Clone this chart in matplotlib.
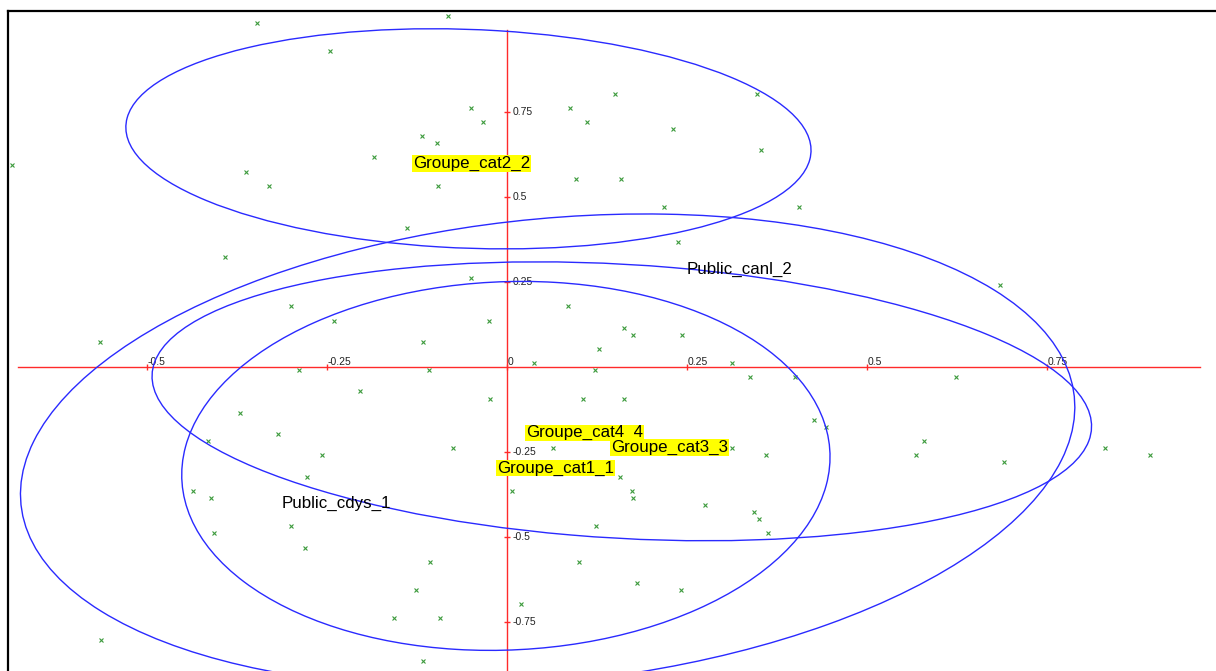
import matplotlib.pyplot as plt
from matplotlib.patches import Ellipse

plt.rcParams['font.family'] = ['Liberation Sans', 'DejaVu Sans']

# individus (plan factoriel 1-2)
ind_x = [-0.348, -0.246, -0.688, -0.185, -0.363, -0.331, -0.082, -0.050, -0.034, -0.119,
         -0.098, 0.150, 0.087, 0.111, 0.230, 0.347, 0.352, 0.095, 0.158, -0.096,
         0.218, 0.405, -0.139, 0.237, -0.392, -0.566, -0.300, -0.241, -0.289, -0.205,
         -0.371, -0.319, -0.416, -0.257, -0.278, -0.437, -0.412, -0.050, 0.084, -0.025,
         -0.117, 0.162, 0.175, 0.243, 0.127, 0.037, -0.109, 0.122, 0.312, 0.337,
         0.400, 0.426, -0.024, 0.105, 0.162, -0.075, 0.064, 0.312, 0.359, 0.157,
         0.007, 0.173, 0.175, 0.684, 0.623, 0.443, 0.579, 0.568, 0.690, 0.830,
         0.893, -0.407, -0.300, -0.281, -0.157, -0.564, 0.275, 0.343, 0.350, 0.362,
         0.123, -0.107, 0.100, 0.180, 0.241, -0.127, 0.019, -0.094, -0.117]
ind_y = [1.013, 0.930, 0.595, 0.619, 0.574, 0.533, 1.033, 0.763, 0.722, 0.680,
         0.660, 0.804, 0.763, 0.722, 0.701, 0.804, 0.639, 0.554, 0.554, 0.533,
         0.472, 0.472, 0.410, 0.369, 0.324, 0.074, 0.180, 0.136, -0.008, -0.070,
         -0.134, -0.196, -0.217, -0.258, -0.323, -0.364, -0.384, 0.263, 0.180, 0.136,
         0.074, 0.116, 0.095, 0.095, 0.054, 0.013, -0.008, -0.008, 0.013, -0.029,
         -0.029, -0.155, -0.093, -0.093, -0.093, -0.237, -0.237, -0.237, -0.258, -0.323,
         -0.364, -0.364, -0.384, 0.242, -0.029, -0.176, -0.217, -0.258, -0.279, -0.237,
         -0.258, -0.487, -0.467, -0.532, -0.737, -0.802, -0.405, -0.426, -0.446, -0.487,
         -0.467, -0.573, -0.573, -0.634, -0.655, -0.655, -0.696, -0.737, -0.864]

# modalites
mod_labels = ['Groupe_cat2_2', 'Public_canl_2', 'Groupe_cat4_4',
              'Groupe_cat3_3', 'Groupe_cat1_1', 'Public_cdys_1']
mod_x = [-0.050, 0.322, 0.107, 0.225, 0.067, -0.238]
mod_y = [0.599, 0.288, -0.193, -0.236, -0.296, -0.401]
mod_jaune = [True, False, True, True, True, False]

# ellipses de confiance
ell_cx = [-0.054, 0.159, -0.002, 0.056]
ell_cy = [0.672, -0.100, -0.290, -0.245]
ell_w = [0.956, 1.318, 0.897, 1.559]
ell_h = [0.641, 0.799, 1.088, 1.285]
ell_angle = [-7.4, -10.2, -7.3, 37.3]

ticks_x = [-0.5, -0.25, 0, 0.25, 0.5, 0.75]
ticks_y = [0.75, 0.5, 0.25, -0.25, -0.5, -0.75]
axe_h = [-0.68, 0.962]
axe_v = [-0.95, 0.992]

rouge = '#ff2a2a'
bleu = '#2a2aff'
vert = '#3c9a3c'

fig = plt.figure(figsize=(12.16, 6.71), dpi=100)
ax = fig.add_axes([8 / 1216, 1 - 700 / 671, 1232 / 1216, 689 / 671])
ax.set_xlim(-0.6935, 1.0176)
ax.set_ylim(-0.9785, 1.0479)
ax.set_xticks([])
ax.set_yticks([])
for s in ax.spines.values():
    s.set_color('black')
    s.set_linewidth(1.6)

# axes rouges
ax.plot(axe_h, [0, 0], color=rouge, lw=1, zorder=1)
ax.plot([0, 0], axe_v, color=rouge, lw=1, zorder=1)
ax.plot(ticks_x, [0] * len(ticks_x), ls='none', marker='|', ms=4, mew=1, color=rouge, zorder=1)
ax.plot([0] * len(ticks_y), ticks_y, ls='none', marker='_', ms=4, mew=1, color=rouge, zorder=1)
for v in ticks_x:
    ax.annotate(f'{v:g}', (v, 0), xytext=(0, 0.5), textcoords='offset points',
                ha='left', va='bottom', fontsize=7.5, color='#222222', zorder=2)
for v in ticks_y:
    ax.annotate(f'{v:g}', (0, v), xytext=(3.5, 0), textcoords='offset points',
                ha='left', va='center', fontsize=7.5, color='#222222', zorder=2)

# points
ax.plot(ind_x, ind_y, ls='none', marker='s', ms=3.5, mfc='white', mec='none', zorder=2)
ax.plot(ind_x, ind_y, ls='none', marker='x', ms=3, mew=0.8, color=vert, zorder=3)

for cx, cy, w, h, a in zip(ell_cx, ell_cy, ell_w, ell_h, ell_angle):
    ax.add_patch(Ellipse((cx, cy), w, h, angle=a, fill=False, ec=bleu, lw=1, zorder=4))

for lab, x, y, j in zip(mod_labels, mod_x, mod_y, mod_jaune):
    bb = dict(boxstyle='square,pad=0.05', fc='yellow', ec='none') if j else None
    ax.text(x, y, lab, ha='center', va='center', fontsize=12.2, color='black',
            bbox=bb, zorder=5)

fig.savefig('out.png', dpi=100)
